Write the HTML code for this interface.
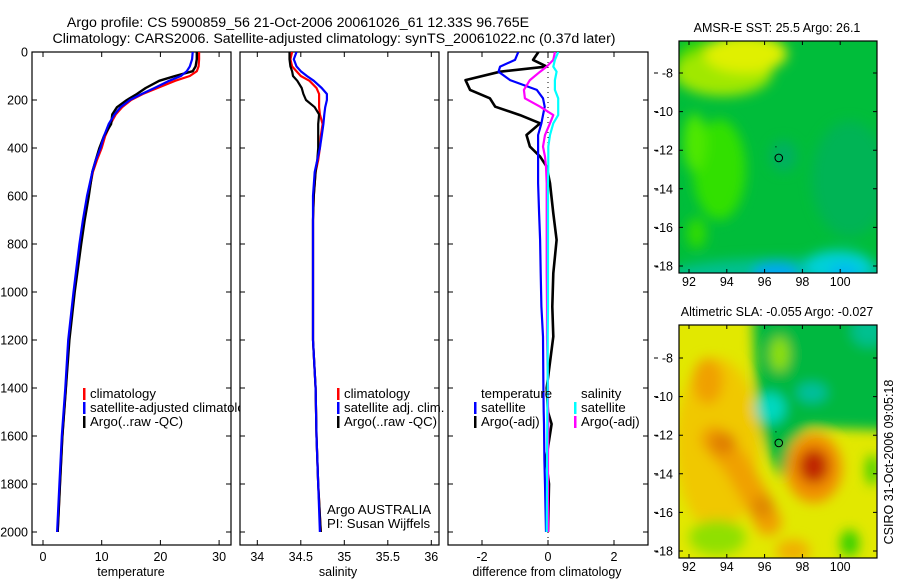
<!DOCTYPE html>
<html><head><meta charset="utf-8">
<style>
html,body{margin:0;padding:0;background:#fff;}
svg{display:block;font-family:"Liberation Sans",sans-serif;}
text{fill:#000;}
</style></head>
<body>
<svg id="fig" width="900" height="580" viewBox="0 0 900 580" xmlns="http://www.w3.org/2000/svg">
<defs>
<clipPath id="c1"><rect x="32" y="52" width="208" height="493"/></clipPath>
<clipPath id="c2"><rect x="240" y="52" width="199" height="493"/></clipPath>
<clipPath id="c3"><rect x="448" y="52" width="200" height="493"/></clipPath>
<clipPath id="m1"><rect x="679" y="41" width="198" height="232"/></clipPath>
<clipPath id="m2"><rect x="679" y="325" width="198" height="233"/></clipPath>
<filter id="bl" x="-50%" y="-50%" width="200%" height="200%"><feGaussianBlur stdDeviation="6"/></filter>
</defs>
<text x="298" y="27" font-size="14.2" text-anchor="middle">Argo profile: CS 5900859_56 21-Oct-2006 20061026_61 12.33S 96.765E</text>
<text x="334" y="43" font-size="14.2" text-anchor="middle">Climatology: CARS2006. Satellite-adjusted climatology: synTS_20061022.nc (0.37d later)</text>
<g id="panels"></g>
<g id="maps"></g>
<text transform="translate(893,462) rotate(-90)" font-size="12.5" text-anchor="middle">CSIRO 31-Oct-2006 09:05:18</text>
</svg>
<script>
// ---- data ----
const depths = [0,30,60,80,100,120,150,175,200,230,260,300,350,400,450,500,600,700,800,1000,1200,1400,1600,1800,2000];
const tempClim = [26.6,26.6,26.5,26.2,25.0,22.5,19.5,17.0,15.0,13.5,12.4,11.5,10.6,10.0,9.2,8.5,7.7,7.0,6.3,5.3,4.4,3.9,3.3,2.9,2.5];
const tempSat  = [25.5,25.4,25.0,24.5,23.5,21.5,19.0,16.8,14.8,13.2,12.2,11.2,10.4,9.8,9.0,8.4,7.5,6.8,6.2,5.2,4.3,3.8,3.2,2.8,2.4];
const tempArgo = [26.2,26.2,26.0,25.5,22.5,19.8,17.5,16.0,14.3,12.6,11.8,11.6,10.4,9.6,9.0,8.4,7.8,7.1,6.5,5.4,4.5,3.9,3.3,2.9,2.5];
const salClim = [34.40,34.38,34.40,34.45,34.50,34.60,34.68,34.71,34.71,34.71,34.72,34.75,34.73,34.72,34.70,34.67,34.65,34.64,34.64,34.64,34.64,34.67,34.68,34.70,34.73];
const salSat  = [34.45,34.42,34.45,34.50,34.57,34.65,34.74,34.80,34.80,34.78,34.77,34.76,34.74,34.72,34.69,34.66,34.64,34.64,34.64,34.64,34.64,34.67,34.68,34.70,34.72];
const salArgo = [34.37,34.37,34.38,34.40,34.41,34.46,34.51,34.53,34.56,34.66,34.71,34.70,34.70,34.70,34.69,34.67,34.65,34.64,34.64,34.64,34.64,34.67,34.68,34.70,34.73];
const diffDepths = [0,33,61,82,117,158,193,228,263,297,346,394,436,478,547,672,783,922,1061,1186,1400,1500,1550,1700,1800,2000];
const diffTempArgo = [-0.29,-0.45,-0.04,-1.45,-2.5,-2.36,-1.76,-1.6,-0.85,-0.24,-0.65,-0.55,-0.24,-0.04,0.06,0.16,0.26,0.16,0.13,0.16,-0.04,0.0,0.11,-0.06,0.03,0.0];
const diffTempSat  = [-0.9,-1.0,-1.45,-1.5,-1.15,-0.34,-0.15,-0.1,-0.15,-0.2,-0.3,-0.3,-0.3,-0.3,-0.3,-0.27,-0.24,-0.22,-0.2,-0.15,-0.14,-0.13,-0.12,-0.11,-0.09,-0.06];
const diffSalArgo  = [0.21,0.16,-0.04,-0.24,-0.55,-0.73,-0.7,-0.24,0.16,0.06,-0.09,-0.15,-0.09,-0.06,-0.04,-0.04,-0.04,-0.04,-0.03,-0.03,0.0,0.0,0.01,0.0,0.0,0.0];
const diffSalSat   = [0.31,0.21,0.16,0.26,0.21,0.21,0.31,0.31,0.31,0.16,0.06,0.01,0.01,0.01,0.0,0.0,0.0,0.0,0.0,-0.01,-0.01,-0.02,-0.02,-0.03,-0.03,-0.04];
const depthTicks = [0,200,400,600,800,1000,1200,1400,1600,1800,2000];
const tempTicks = [0,10,20,30];
const salTicks = [34,34.5,35,35.5,36];
const diffTicks = [-2,0,2];
const lonTicks = [92,94,96,98,100];
const latTicks = [-8,-10,-12,-14,-16,-18];
const argoLon = 96.75, argoLat = -12.4;

const NS="http://www.w3.org/2000/svg";
function mk(tag,attrs,parent){const e=document.createElementNS(NS,tag);for(const k in attrs)e.setAttribute(k,attrs[k]);parent.appendChild(e);return e;}
const P=document.getElementById('panels');
const yD=d=>52+d*0.24;
const xT=v=>43+v*5.87;
const xS=v=>257.3+(v-34)*87;
const xDf=v=>548+v*33;

function frame(x0,x1,name){
  const r=mk('rect',{x:x0,y:52,width:x1-x0,height:493,fill:'none',stroke:'#000','stroke-width':1.2},P);
  
  
  depthTicks.forEach(d=>{
    const y=yD(d);
    const t=mk('path',{d:`M${x0},${y}h5M${x1},${y}h-5`,stroke:'#000','stroke-width':1},P);
    
    
  });
}
function xticks(ticks,fx,name,title,tx){
  ticks.forEach(v=>{
    const x=fx(v);
    const t=mk('path',{d:`M${x},52v5M${x},545v-5`,stroke:'#000','stroke-width':1},P);
    
    
    const l=mk('text',{x:x,y:561,'font-size':12.5,'text-anchor':'middle'},P);
    l.textContent=String(v);
    
    
  });
  const tt=mk('text',{x:tx,y:576,'font-size':12.5,'text-anchor':'middle'},P);
  tt.textContent=title;
  
  
}
function line(xs,ds,fx,color,w,clip,name){
  let d='';
  xs.forEach((v,i)=>{d+=(i?'L':'M')+fx(v).toFixed(1)+','+yD(ds[i]).toFixed(1);});
  const p=mk('path',{d:d,fill:'none',stroke:color,'stroke-width':w,'clip-path':`url(#${clip})`,'stroke-linejoin':'round'},P);
  
  
}
function legend(x,y,color,label,name,clip){
  if(color){const b=mk('rect',{x:x,y:y-9,width:2.5,height:12,fill:color},P);
    
    }
  const t=mk('text',{x:x+7,y:y+1,'font-size':13.2},P);
  if(clip) t.setAttribute('clip-path',clip);
  t.textContent=label;
  
  
}
depthTicks.forEach(d=>{
  const l=mk('text',{x:28,y:yD(d)+4.5,'font-size':12.5,'text-anchor':'end'},P);
  l.textContent=String(d);
  
  
});
frame(32,231,'temperature-panel-frame');
xticks(tempTicks,xT,'temperature','temperature',131);
line(tempClim,depths,xT,'#f00',2.2,'c1','temp-climatology-line');
line(tempArgo,depths,xT,'#000',2.4,'c1','temp-argo-line');
line(tempSat,depths,xT,'#00f',2.2,'c1','temp-satellite-line');
legend(83,397,'#f00','climatology','legend-climatology');
legend(83,411,'#00f','satellite-adjusted climatology','legend-satellite-adjusted','url(#c1)');
legend(83,425,'#000','Argo(..raw -QC)','legend-argo');
frame(240,439,'salinity-panel-frame');
xticks(salTicks,xS,'salinity','salinity',338);
line(salClim,depths,xS,'#f00',2.2,'c2','sal-climatology-line');
line(salArgo,depths,xS,'#000',2.2,'c2','sal-argo-line');
line(salSat,depths,xS,'#00f',2.2,'c2','sal-satellite-line');
legend(337,397,'#f00','climatology','legend2-climatology');
legend(337,411,'#00f','satellite adj. clim.','legend2-satellite');
legend(337,425,'#000','Argo(..raw -QC)','legend2-argo');
legend(320,513,null,'Argo AUSTRALIA','argo-australia-label');
legend(320,527,null,'PI: Susan Wijffels','pi-label');
frame(448,648,'difference-panel-frame');
xticks(diffTicks,xDf,'difference','difference from climatology',547);
const zl=mk('path',{d:`M548,52V545`,stroke:'#000','stroke-width':1,'stroke-dasharray':'1,4'},P);


line(diffTempArgo,diffDepths,xDf,'#000',2.6,'c3','diff-temp-argo-line');
line(diffTempSat,diffDepths,xDf,'#00f',2.2,'c3','diff-temp-satellite-line');
line(diffSalArgo,diffDepths,xDf,'#f0f',2.2,'c3','diff-sal-argo-line');
line(diffSalSat,diffDepths,xDf,'#0ff',2.2,'c3','diff-sal-satellite-line');
legend(474,397,null,'temperature','legend3-temperature-header');
legend(474,411,'#00f','satellite','legend3-temp-satellite');
legend(474,425,'#000','Argo(-adj)','legend3-temp-argo');
legend(574,397,null,'salinity','legend3-salinity-header');
legend(574,411,'#0ff','satellite','legend3-sal-satellite');
legend(574,425,'#f0f','Argo(-adj)','legend3-sal-argo');

const M=document.getElementById('maps');
const lx=lon=>689+(lon-92)*18.9;
function drawMap(y0,top,bottom,clip,base,blobs,title,name){
  const ly=lat=>y0+(-8-lat)*19.3;
  const g=mk('g',{'clip-path':`url(#${clip})`},M);
  
  
  mk('rect',{x:679,y:top,width:198,height:bottom-top,fill:base},g);
  const gb=mk('g',{filter:'url(#bl)'},g);
  blobs.forEach(b=>{
    if(b.poly){
      mk('polygon',{points:b.poly.map(p=>lx(p[0])+','+ly(p[1])).join(' '),fill:b.c},gb);
    } else if(b.line){
      mk('path',{d:'M'+b.line.map(p=>lx(p[0])+','+ly(p[1])).join('L'),stroke:b.c,'stroke-width':b.w*19,fill:'none','stroke-linecap':'round'},gb);
    } else {
      mk('ellipse',{cx:lx(b.lon),cy:ly(b.lat),rx:b.rx*18.9,ry:b.ry*19.3,fill:b.c},gb);
    }
  });
  const fr=mk('rect',{x:679,y:top,width:198,height:bottom-top,fill:'none',stroke:'#000','stroke-width':1.2},M);
  
  
  const ci=mk('circle',{cx:lx(argoLon),cy:ly(argoLat),r:3.8,fill:'none',stroke:'#000','stroke-width':1},M);
  
  
  mk('rect',{x:lx(96.6)-0.5,y:ly(-11.8),width:1,height:1,fill:'#000'},M);
  latTicks.forEach(v=>{
    const y=ly(v);
    const t=mk('path',{d:`M679,${y}h4M877,${y}h-4M654,${y}h4`,stroke:'#000','stroke-width':1},M);
    
    
    const l=mk('text',{x:673,y:y+4.5,'font-size':12.5,'text-anchor':'end'},M);
    l.textContent=String(v);
    
    
  });
  lonTicks.forEach(v=>{
    const x=lx(v);
    const t=mk('path',{d:`M${x},${top}v4M${x},${bottom}v-4`,stroke:'#000','stroke-width':1},M);
    
    
    const l=mk('text',{x:x,y:bottom+13,'font-size':12.5,'text-anchor':'middle'},M);
    l.textContent=String(v);
    
    
  });
  const tt=mk('text',{x:777,y:top-9,'font-size':12.5,'text-anchor':'middle'},M);
  tt.textContent=title;
  
  
}
drawMap(73,41,273,'m1','#00bd3a',[
  {lon:92.5,lat:-7.5,rx:1.2,ry:1.2,c:'#40d800'},
  {lon:93.8,lat:-8.0,rx:2.6,ry:1.2,c:'#a0e800'},
  {lon:95.0,lat:-7.0,rx:2.2,ry:1.0,c:'#e0f000'},
  {lon:93.6,lat:-13.0,rx:1.4,ry:2.6,c:'#30e000'},
  {lon:92.3,lat:-11.6,rx:0.6,ry:1.5,c:'#50e800'},
  {lon:92.4,lat:-16.3,rx:0.5,ry:0.8,c:'#30dc00'},
  {lon:100.5,lat:-13.5,rx:2.0,ry:3.0,c:'#00b455'},
  {lon:97,lat:-12.3,rx:0.7,ry:0.8,c:'#00b060'},
  {lon:97,lat:-18.6,rx:6.5,ry:1.0,c:'#00c090'},
  {lon:96.6,lat:-18.4,rx:1.2,ry:0.6,c:'#00a8f0'},
  {lon:99.9,lat:-18.0,rx:1.8,ry:0.8,c:'#00d0d8'},
  {lon:100.2,lat:-18.4,rx:0.8,ry:0.5,c:'#00b8f0'}
],'AMSR-E SST: 25.5 Argo: 26.1','sst-map');
drawMap(358,325,558,'m2','#e2e800',[
  {lon:93.5,lat:-12.5,rx:2.2,ry:4.5,c:'#f0c800'},
  {poly:[[95.3,-4.5],[104,-4.5],[104,-11.8],[98.3,-11.6],[97.4,-12.4],[96.9,-14.3],[96.3,-13.2],[95.6,-11]],c:'#00b840'},
  {lon:101.5,lat:-6.6,rx:0.9,ry:0.8,c:'#00c090'},
  {lon:96.8,lat:-7.8,rx:0.5,ry:0.9,c:'#90e000'},
  {lon:96.3,lat:-10.6,rx:0.8,ry:0.8,c:'#00d8c0'},
  {lon:98.5,lat:-9.8,rx:0.8,ry:0.5,c:'#00c0a0'},
  {lon:93,lat:-9.2,rx:0.8,ry:1.2,c:'#f0a000'},
  {line:[[93.3,-12.2],[94.5,-13.5],[95.5,-15.2],[96.2,-16.5]],w:1.4,c:'#f0a000'},
  {lon:93.8,lat:-12.4,rx:0.7,ry:0.6,c:'#e08000'},
  {lon:95.9,lat:-15.7,rx:0.6,ry:0.6,c:'#e08800'},
  {lon:98.6,lat:-13.7,rx:1.5,ry:1.8,c:'#f09000'},
  {lon:98.6,lat:-13.6,rx:0.8,ry:0.9,c:'#c02800'},
  {lon:97.5,lat:-18.0,rx:0.9,ry:0.6,c:'#f0b000'},
  {lon:93.5,lat:-17.3,rx:1.5,ry:0.9,c:'#90e000'},
  {lon:100.5,lat:-17.6,rx:0.5,ry:0.7,c:'#30d000'},
  {lon:101.7,lat:-13.8,rx:0.35,ry:0.8,c:'#40d000'}
],'Altimetric SLA: -0.055 Argo: -0.027','sla-map');
</script>
</body></html>
